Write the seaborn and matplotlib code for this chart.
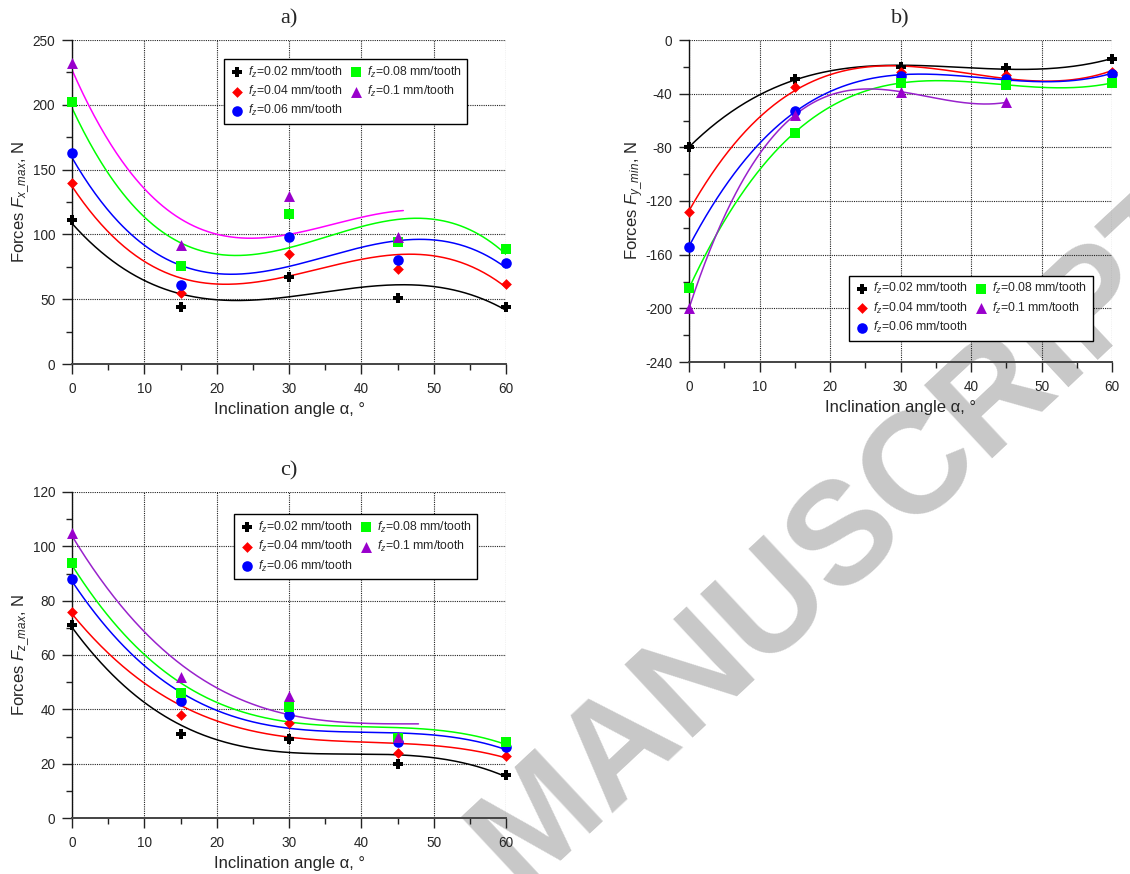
import numpy as np
import matplotlib
matplotlib.use("Agg")
import matplotlib.pyplot as plt
from matplotlib.ticker import MultipleLocator
import seaborn as sns

# ---------------- data ----------------
angles = [0, 15, 30, 45, 60]
feed_labels = [r"$f_z$=0.02 mm/tooth", r"$f_z$=0.04 mm/tooth", r"$f_z$=0.06 mm/tooth",
               r"$f_z$=0.08 mm/tooth", r"$f_z$=0.1 mm/tooth"]

# a) Fx_max
fx_002 = [111, 44, 67, 51, 44]
fx_004 = [140, 55, 85, 73, 62]
fx_006 = [163, 61, 98, 80, 78]
fx_008 = [202, 76, 116, 94, 89]
fx_010 = [232, 92, 130, 98]
fx_010_fit_extra = [98]          # value at 60 deg used in the fit but not plotted

# b) Fy_min
fy_002 = [-80, -29, -20, -21, -14]
fy_004 = [-128, -35, -23.5, -26, -23.5]
fy_006 = [-154, -53, -27, -29, -25]
fy_008 = [-185, -69, -32, -33.5, -32]
fy_010 = [-200, -56, -38.5, -46.5]
fy_010_fit_extra = []

# c) Fz_max
fz_002 = [71, 31, 29, 20, 16]
fz_004 = [76, 38, 35, 24, 23]
fz_006 = [88, 43, 38, 28, 26]
fz_008 = [94, 46, 41, 29.5, 28]
fz_010 = [105, 52, 45, 30]
fz_010_fit_extra = [34.5]

# ---------------- style ----------------
sns.set_style("ticks")
plt.rcParams["font.family"] = ["Liberation Sans", "DejaVu Sans"]
plt.rcParams["mathtext.fontset"] = "custom"
plt.rcParams["mathtext.rm"] = "Liberation Sans"
plt.rcParams["mathtext.it"] = "Liberation Sans:italic"
plt.rcParams["mathtext.bf"] = "Liberation Sans:bold"
plt.rcParams["axes.unicode_minus"] = False

marker_colors = ["#000000", "#ff0000", "#0000ff", "#00ff00", "#9900cc"]
markers = ["P", "D", "o", "s", "^"]
msizes = [62, 30, 58, 52, 62]

fig = plt.figure(figsize=(11.3, 8.74), dpi=100)
W, H = 1130, 874


def add_axes(px_left, px_top, px_right, px_bottom):
    return fig.add_axes([px_left / W, 1 - px_bottom / H,
                         (px_right - px_left) / W, (px_bottom - px_top) / H])


ax_a = add_axes(72, 40, 506, 364)
ax_b = add_axes(689, 40, 1112, 362)
ax_c = add_axes(72, 492, 506, 818)


def draw_panel(ax, series, extras, line_colors, end_x, ylim, ymaj, ymin,
               ylabel, title, leg_anchor, ylabel_x):
    ax.set_facecolor("none")
    handles = []
    for i, vals in enumerate(series):
        xs = angles[:len(vals)]
        fit_y = list(vals) + (list(extras) if i == 4 else [])
        fit_x = angles[:len(fit_y)]
        coef = np.polyfit(fit_x, fit_y, 3)
        xx = np.linspace(0, end_x[i], 300)
        sns.lineplot(x=xx, y=np.polyval(coef, xx), color=line_colors[i], lw=1.1,
                     ax=ax, zorder=2, legend=False)
        sns.scatterplot(x=xs, y=vals, marker=markers[i], color=marker_colors[i],
                        s=msizes[i], linewidth=0, ax=ax, zorder=3, clip_on=False,
                        legend=False)
        handles.append(ax.collections[-1])
    ax.set_xlim(0, 60)
    ax.set_ylim(*ylim)
    ax.xaxis.set_major_locator(MultipleLocator(10))
    ax.xaxis.set_minor_locator(MultipleLocator(5))
    ax.yaxis.set_major_locator(MultipleLocator(ymaj))
    ax.yaxis.set_minor_locator(MultipleLocator(ymin))
    ax.grid(True, which="major", color="#222222", linestyle=(0, (1, 1)), lw=0.8)
    for s in ["top", "right"]:
        ax.spines[s].set_visible(False)
    ax.spines["left"].set_color("#111111")
    ax.spines["bottom"].set_color("#444444")
    ax.spines["left"].set_linewidth(1.0)
    ax.spines["bottom"].set_linewidth(1.4)
    ax.tick_params(axis="both", which="major", direction="out", length=7.5,
                   width=1.0, color="#222222", labelsize=9.8, pad=4.5)
    ax.tick_params(axis="x", which="major", pad=5.5)
    ax.tick_params(axis="both", which="minor", direction="out", length=4,
                   width=1.0, color="#222222")
    ax.set_xlabel("Inclination angle α, °", fontsize=12, labelpad=4)
    ax.set_ylabel(ylabel, fontsize=12)
    ax.yaxis.set_label_coords(ylabel_x, 0.5)
    ax.set_title(title, fontsize=16, family="Liberation Serif", pad=12)
    leg = ax.legend(handles=handles, labels=feed_labels, ncol=2, loc="upper left",
                    bbox_to_anchor=leg_anchor, fontsize=8.8, frameon=True,
                    fancybox=False, framealpha=1, edgecolor="black",
                    borderpad=0.45, handletextpad=0.3, columnspacing=0.5,
                    handlelength=1.2, labelspacing=0.35, borderaxespad=0)
    leg.get_frame().set_linewidth(1.0)
    leg.set_zorder(5)


draw_panel(ax_a, [fx_002, fx_004, fx_006, fx_008, fx_010], fx_010_fit_extra,
           ["#000000", "#ff0000", "#0000ff", "#00ff00", "#ff00ff"],
           [60, 60, 60, 60, 45.8], (0, 250), 50, 25,
           r"Forces $F_{x\_max}$, N", "a)", (0.350, 0.941), -0.092)
draw_panel(ax_b, [fy_002, fy_004, fy_006, fy_008, fy_010], fy_010_fit_extra,
           ["#000000", "#ff0000", "#0000ff", "#00ff00", "#9922cc"],
           [60, 60, 60, 60, 45], (-240, 0), 40, 20,
           r"Forces $F_{y\_min}$, N", "b)", (0.379, 0.268), -0.104)
draw_panel(ax_c, [fz_002, fz_004, fz_006, fz_008, fz_010], fz_010_fit_extra,
           ["#000000", "#ff0000", "#0000ff", "#00ff00", "#9922cc"],
           [60, 60, 60, 60, 47.9], (0, 120), 20, 10,
           r"Forces $F_{z\_max}$, N", "c)", (0.373, 0.932), -0.092)

# watermark (partly outside the page, as in the reference)
fig.text(520 / W, 1 - 890 / H, "MANUSCRIPT", rotation=43, rotation_mode="anchor",
         ha="left", va="baseline", fontsize=104, fontweight="bold",
         color="#c8c8c8", family="Liberation Sans", zorder=-1)

fig.savefig("out.png", dpi=100)
